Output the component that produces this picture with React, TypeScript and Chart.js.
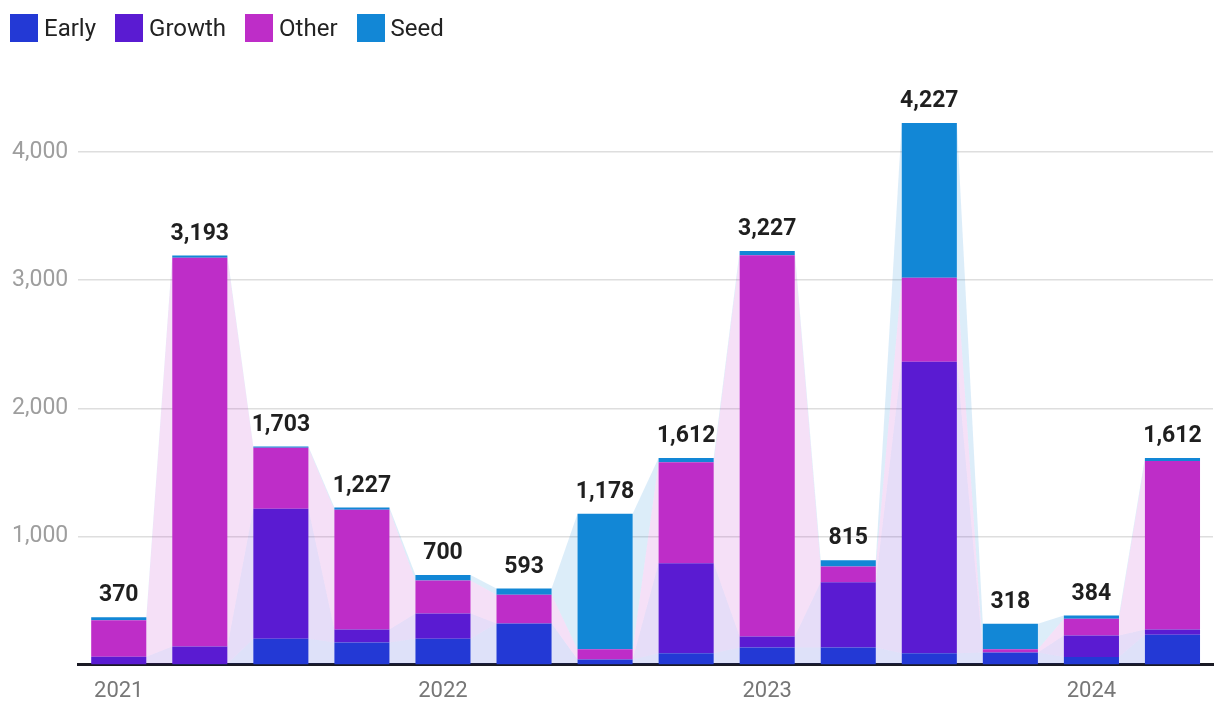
import React, { useEffect, useRef } from "react";
import { Chart, registerables } from "chart.js";

Chart.register(...registerables);

const categories = [
  "2021 Q1", "2021 Q2", "2021 Q3", "2021 Q4",
  "2022 Q1", "2022 Q2", "2022 Q3", "2022 Q4",
  "2023 Q1", "2023 Q2", "2023 Q3", "2023 Q4",
  "2024 Q1", "2024 Q2",
];
const yearTickLabels = ["2021", "2022", "2023", "2024"];
const yTickValues = [1000, 2000, 3000, 4000];

const early = [0, 5, 201, 172, 201, 321, 39, 89, 133, 133, 89, 94, 60, 232];
const growth = [62, 136, 1015, 102, 198, 0, 0, 701, 86, 509, 2275, 0, 167, 42];
const other = [285, 3035, 477, 934, 258, 224, 81, 790, 2975, 123, 655, 26, 131, 1315];
const seed = [23, 17, 10, 19, 43, 48, 1058, 32, 33, 50, 1208, 198, 26, 23];

const seriesNames = ["Early", "Growth", "Other", "Seed"];
const seriesColors = ["#2339D5", "#5A1BD2", "#BE2DC8", "#1287D6"];
const seriesFills = [
  "rgba(35,57,213,0.15)",
  "rgba(90,27,210,0.15)",
  "rgba(190,45,200,0.15)",
  "rgba(18,135,214,0.15)",
];

const FONT = "Roboto, 'Noto Sans', sans-serif";

const connectorPlugin = {
  id: "connectors",
  beforeDatasetsDraw(chart: any) {
    const ctx = chart.ctx;
    const area = chart.chartArea;
    ctx.save();
    ctx.beginPath();
    ctx.rect(area.left, area.top, area.right - area.left, area.bottom - area.top);
    ctx.clip();
    chart.data.datasets.forEach((_ds: any, d: number) => {
      const meta = chart.getDatasetMeta(d);
      ctx.fillStyle = seriesFills[d];
      for (let i = 0; i < meta.data.length - 1; i++) {
        const a = meta.data[i] as any;
        const b = meta.data[i + 1] as any;
        const ar = a.x + a.width / 2;
        const bl = b.x - b.width / 2;
        ctx.beginPath();
        ctx.moveTo(ar, a.base);
        ctx.lineTo(ar, a.y);
        ctx.lineTo(bl, b.y);
        ctx.lineTo(bl, b.base);
        ctx.closePath();
        ctx.fill();
      }
    });
    ctx.restore();
  },
};

const totalsPlugin = {
  id: "totals",
  afterDatasetsDraw(chart: any) {
    const ctx = chart.ctx;
    const n = chart.data.labels.length;
    const last = chart.getDatasetMeta(chart.data.datasets.length - 1);
    ctx.save();
    ctx.font = `bold 23px ${FONT}`;
    ctx.fillStyle = "#1f1f1f";
    ctx.textAlign = "center";
    ctx.textBaseline = "bottom";
    for (let i = 0; i < n; i++) {
      let total = 0;
      chart.data.datasets.forEach((ds: any) => (total += ds.data[i]));
      const el = last.data[i] as any;
      ctx.fillText(total.toLocaleString("en-US"), el.x, el.y - 10);
    }
    ctx.restore();
  },
};

export default function App() {
  const ref = useRef<HTMLCanvasElement | null>(null);

  useEffect(() => {
    document.body.style.margin = "0";
    const canvas = ref.current;
    if (!canvas) return;
    const data = [early, growth, other, seed];
    const chart = new Chart(canvas, {
      type: "bar",
      data: {
        labels: categories,
        datasets: seriesNames.map((name, k) => ({
          label: name,
          data: data[k],
          backgroundColor: seriesColors[k],
          borderWidth: 0,
          barPercentage: 0.68,
          categoryPercentage: 1,
        })),
      },
      options: {
        responsive: false,
        animation: false,
        maintainAspectRatio: false,
        layout: { padding: { left: 2, right: 7, top: 88, bottom: 3 } },
        plugins: {
          legend: { display: false },
          tooltip: { enabled: false },
        },
        scales: {
          x: {
            stacked: true,
            offset: true,
            grid: { display: false, drawTicks: false },
            border: { display: true, color: "#1a1a24", width: 3 },
            ticks: {
              autoSkip: false,
              maxRotation: 0,
              padding: 14,
              color: "#777777",
              font: { family: FONT, size: 22 },
              callback: (_v: any, i: number) =>
                i % 4 === 0 ? yearTickLabels[i / 4] : "",
            },
          },
          y: {
            type: "linear",
            display: true,
            stacked: true,
            min: 0,
            max: 4500,
            border: { display: false },
            grid: {
              display: true,
              lineWidth: 1.5,
              drawTicks: false,
              color: "#dedede",
            },
            afterBuildTicks: (axis: any) => {
              axis.ticks = yTickValues.map((v) => ({ value: v }));
            },
            ticks: {
              display: true,
              padding: 10,
              color: "#9e9e9e",
              font: { family: FONT, size: 23 },
              callback: (v: any) => Number(v).toLocaleString("en-US"),
            },
          },
        },
      },
      plugins: [connectorPlugin, totalsPlugin],
    } as any);
    return () => chart.destroy();
  }, []);

  return (
    <div style={{ position: "relative", width: 1220, height: 722 }}>
      <div
        style={{
          position: "absolute",
          left: 10,
          top: 14,
          display: "flex",
          alignItems: "center",
          fontFamily: FONT,
          fontSize: 24,
          color: "#222",
          lineHeight: "28px",
        }}
      >
        {seriesNames.map((name, k) => (
          <div key={name} style={{ display: "flex", alignItems: "center", marginRight: 19 }}>
            <span
              style={{
                display: "inline-block",
                width: 28,
                height: 28,
                background: seriesColors[k],
                marginRight: 6,
              }}
            />
            <span>{name}</span>
          </div>
        ))}
      </div>
      <canvas ref={ref} width={1220} height={722} style={{ display: "block" }} />
    </div>
  );
}
